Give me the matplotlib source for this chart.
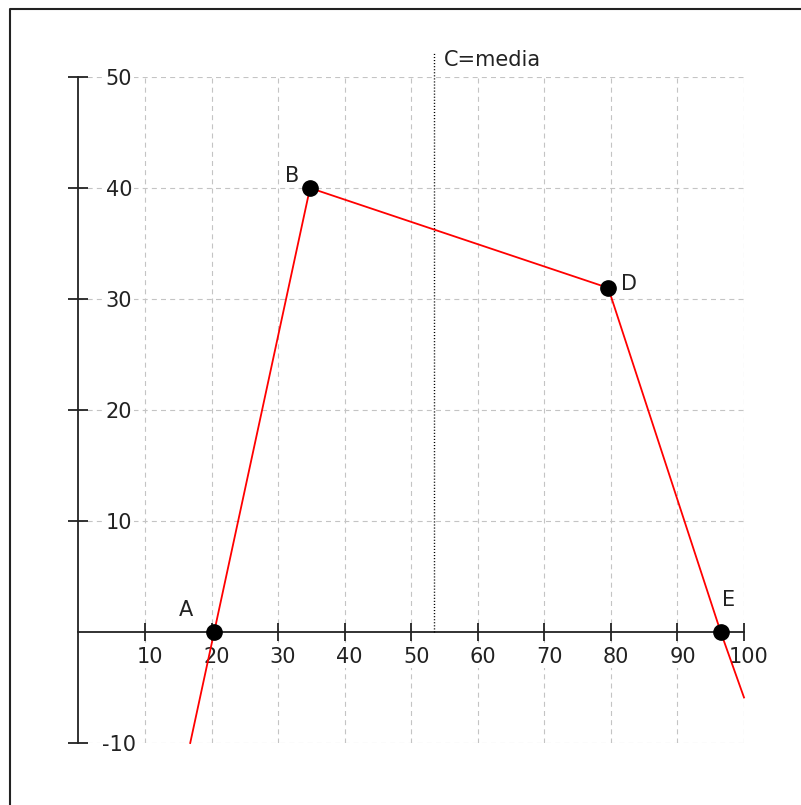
import matplotlib
matplotlib.use("Agg")
import matplotlib.pyplot as plt
from matplotlib.lines import Line2D
from matplotlib.transforms import ScaledTranslation

plt.rcParams['font.family'] = ['DejaVu Sans']
plt.rcParams['lines.scale_dashes'] = False

# Data
line_x = [16.8, 20.4, 34.8, 79.6, 96.5, 100]
line_y = [-10, 0, 40, 31, 0, -5.9]
point_names = ['A', 'B', 'D', 'E']
point_x = [20.4, 34.8, 79.6, 96.5]
point_y = [0, 40, 31, 0]
media_x = 53.5
media_label = 'C=media'
x_ticks = [10, 20, 30, 40, 50, 60, 70, 80, 90, 100]
y_ticks = [-10, 10, 20, 30, 40, 50]

W, H = 801, 805
fig = plt.figure(figsize=(W / 100, H / 100), dpi=100)
ax = fig.add_axes([78.4 / W, (H - 743) / H, 665.6 / W, 666 / H])
ax.set_xlim(0, 100)
ax.set_ylim(-10, 50)

FS = 15
axis_color = '#222222'

# spines
ax.spines['left'].set_visible(False)
ax.spines['top'].set_visible(False)
ax.spines['right'].set_position(('data', 0))
ax.spines['bottom'].set_position(('data', 0))
for s in ('right', 'bottom'):
    ax.spines[s].set_color(axis_color)
    ax.spines[s].set_linewidth(1.3)
ax.yaxis.tick_right()
ax.xaxis.tick_bottom()

ax.set_xticks(x_ticks)
ax.set_yticks(y_ticks)
ax.set_xticklabels([str(v) for v in x_ticks])
ax.set_yticklabels([str(v) for v in y_ticks])
ax.tick_params(axis='y', direction='inout', length=14.4, width=1.3, color=axis_color,
               labelsize=FS, labelcolor='#222222', pad=22)
ax.tick_params(axis='x', direction='inout', length=13.5, width=1.3, color=axis_color,
               labelsize=FS, labelcolor='#222222', pad=4)
for lab in ax.get_yticklabels():
    lab.set_ha('center')
    lab.set_bbox(dict(fc='white', ec='none', pad=1.5))
for lab in ax.get_xticklabels():
    lab.set_bbox(dict(fc='white', ec='none', pad=1))
    lab.set_transform(lab.get_transform() + ScaledTranslation(5 / 100, 0, fig.dpi_scale_trans))

ax.grid(True, color='#c4c4c4', linewidth=0.8, linestyle=(0, (3.6, 3.0)))

# media line
ax.plot([media_x, media_x], [0, 52.2], color='black', linewidth=1.0,
        linestyle=(0, (0.8, 1.4)), clip_on=False, zorder=3)
ax.text(media_x + 1.4, 51.5, media_label, fontsize=FS, color='#222222',
        ha='left', va='center', clip_on=False)

# red polyline
ax.plot(line_x, line_y, color='#ff0000', linewidth=1.3, zorder=4, clip_on=False)
ax.plot(point_x, point_y, 'o', color='black', markersize=11, zorder=5, clip_on=False)

offsets = {'A': (-28, 22), 'B': (-18, 12), 'D': (21, 4), 'E': (8, 32)}
for n, x, y in zip(point_names, point_x, point_y):
    dx, dy = offsets[n]
    ax.annotate(n, (x, y), xytext=(dx * 0.72, dy * 0.72), textcoords='offset points',
                ha='center', va='center', fontsize=FS, color='#222222')

# figure border (left and top only visible)
bx = 9.5 / W
by = 1 - 9.5 / H
fig.add_artist(Line2D([bx, bx, 1.0], [0, by, by], transform=fig.transFigure,
                      color='#222222', linewidth=1.5))

fig.savefig('out.png', dpi=100)
